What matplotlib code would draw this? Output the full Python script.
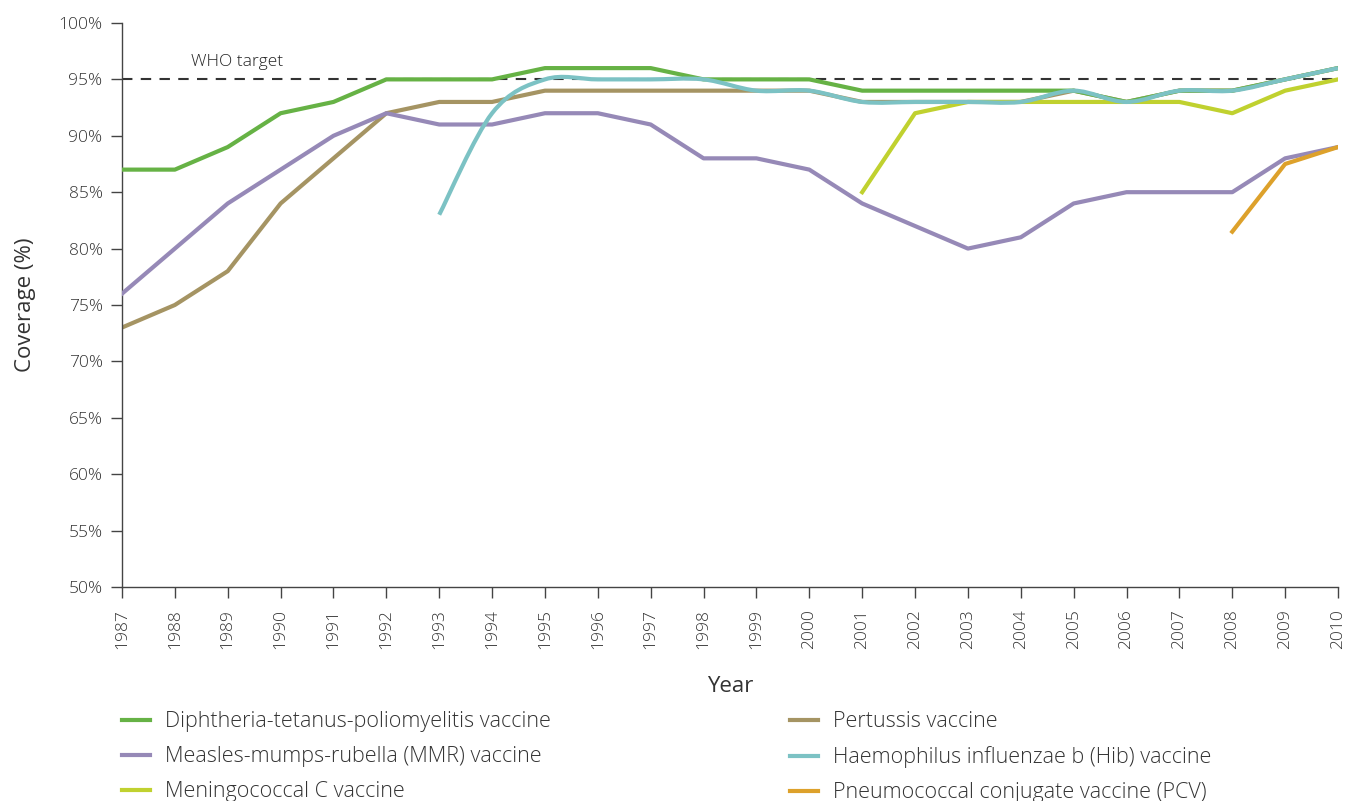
import numpy as np
import matplotlib
matplotlib.use('Agg')
import matplotlib.pyplot as plt
from matplotlib.path import Path
from matplotlib.patches import PathPatch
from matplotlib.lines import Line2D

plt.rcParams['font.family'] = ['Open Sans', 'DejaVu Sans']
plt.rcParams['font.weight'] = 'light'

years = list(range(1987, 2011))
dtp = [87, 87, 89, 92, 93, 95, 95, 95, 96, 96, 96, 95, 95, 95, 94, 94, 94, 94, 94, 93, 94, 94, 95, 96]
pertussis = [73, 75, 78, 84, 88, 92, 93, 93, 94, 94, 94, 94, 94, 94, 93, 93, 93, 93, 94, 93, 94, 94, 95, 96]
mmr = [76, 80, 84, 87, 90, 92, 91, 91, 92, 92, 91, 88, 88, 87, 84, 82, 80, 81, 84, 85, 85, 85, 88, 89]
hib_years = list(range(1993, 2011))
hib = [83, 92, 95, 95, 95, 95, 94, 94, 93, 93, 93, 93, 94, 93, 94, 94, 95, 96]
menc_years = list(range(2001, 2011))
menc = [85, 92, 93, 93, 93, 93, 93, 92, 94, 95]
pcv_years = [2008, 2009, 2010]
pcv = [81.5, 87.5, 89]
who_target = 95

c_dtp = '#66b245'
c_pert = '#a59463'
c_mmr = '#9689b7'
c_hib = '#7cc2c4'
c_menc = '#c0d12f'
c_pcv = '#dda12b'
lw = 3.0
txt = '#333333'


def smooth_path(xs, ys):
    # Catmull-Rom style bezier, like a spreadsheet "smoothed line"
    p = np.column_stack([xs, ys]).astype(float)
    verts = [p[0]]
    codes = [Path.MOVETO]
    n = len(p)
    for i in range(n - 1):
        p0 = p[i - 1] if i > 0 else p[i]
        p3 = p[i + 2] if i + 2 < n else p[i + 1]
        c1 = p[i] + (p[i + 1] - p0) / 6
        c2 = p[i + 1] - (p3 - p[i]) / 6
        verts += [c1, c2, p[i + 1]]
        codes += [Path.CURVE4] * 3
    return Path(verts, codes)


fig = plt.figure(figsize=(13.45, 8.01), dpi=100)
ax = fig.add_axes([0.0907, 0.2672, 0.9041, 0.7041])

ax.plot(years, [who_target] * len(years), color='#333333', lw=1.5, ls=(0, (5, 4)), zorder=1)
ax.text(1988.3, 95.8, 'WHO target', fontsize=12.5, color='#222222', ha='left', va='bottom')

ax.plot(years, pertussis, color=c_pert, lw=lw, zorder=2)
ax.plot(years, dtp, color=c_dtp, lw=lw, zorder=3)
ax.plot(years, mmr, color=c_mmr, lw=lw, zorder=3)
ax.plot(menc_years, menc, color=c_menc, lw=lw, zorder=3)
ax.plot(pcv_years, pcv, color=c_pcv, lw=lw, zorder=3)
ax.add_patch(PathPatch(smooth_path(hib_years, hib), fill=False, ec=c_hib, lw=lw, zorder=4))

ax.set_xlim(1987, 2010)
ax.set_ylim(50, 100)
ax.set_xticks(years)
ax.set_xticklabels([str(y) for y in years], rotation=90, fontsize=12.5, color=txt)
yt = list(range(50, 101, 5))
ax.set_yticks(yt)
ax.set_yticklabels([f'{v}%' for v in yt], fontsize=12.5, color=txt)
ax.tick_params(axis='both', direction='out', length=8, width=1, color='#444444', pad=6)
ax.tick_params(axis='x', pad=8)
for s in ['top', 'right']:
    ax.spines[s].set_visible(False)
for s in ['left', 'bottom']:
    ax.spines[s].set_color('#444444')
    ax.spines[s].set_linewidth(1)

ax.set_xlabel('Year', fontsize=16, color=txt, labelpad=19)
ax.set_ylabel('Coverage (%)', fontsize=16, color=txt, labelpad=16)

def h(c):
    return Line2D([], [], color=c, lw=lw)

leg_kw = dict(frameon=False, fontsize=15.5, handlelength=1.3, handletextpad=0.7,
              labelspacing=0.65, borderaxespad=0, borderpad=0, labelcolor=txt)
fig.legend([h(c_dtp), h(c_mmr), h(c_menc)],
           ['Diphtheria-tetanus-poliomyelitis vaccine', 'Measles-mumps-rubella (MMR) vaccine',
            'Meningococcal C vaccine'],
           loc='upper left', bbox_to_anchor=(0.0907, 0.112), **leg_kw)
fig.legend([h(c_pert), h(c_hib), h(c_pcv)],
           ['Pertussis vaccine', 'Haemophilus influenzae b (Hib) vaccine',
            'Pneumococcal conjugate vaccine (PCV)'],
           loc='upper left', bbox_to_anchor=(0.587, 0.112), **leg_kw)

fig.savefig('out.png', dpi=100)
